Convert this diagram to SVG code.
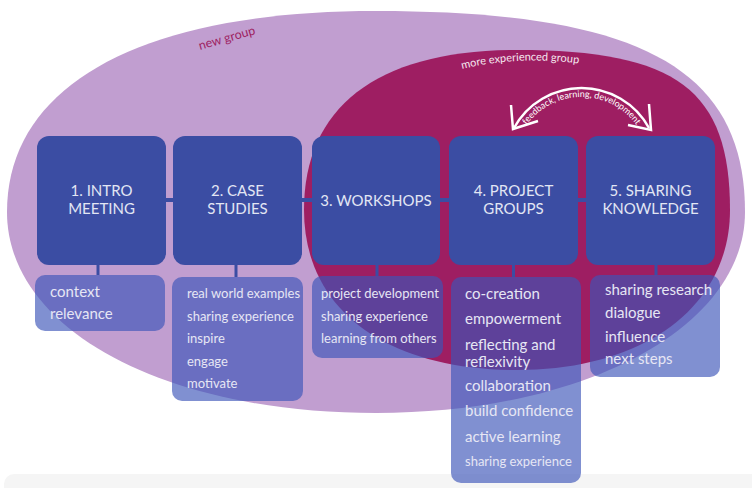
<svg xmlns="http://www.w3.org/2000/svg" width="752" height="488" viewBox="0 0 752 488">
<style>
  .main { fill: #3b4da3; }
  .sub { fill: #3c55b8; fill-opacity: 0.65; }
  .mt { font-family: Lato, "Liberation Sans", sans-serif; font-size: 15px; fill: #e2e6f4; text-anchor: middle; }
  .st { font-family: Lato, "Liberation Sans", sans-serif; font-size: 15px; fill: #e6e6f4; }
  .ss { font-family: Lato, "Liberation Sans", sans-serif; font-size: 13px; fill: #e6e6f4; }
  .conn { fill: #3b4da3; }
  .lbl { font-family: Lato, "Liberation Sans", sans-serif; }
</style>
<defs>
  <path id="mePath" d="M 462 69 Q 520 55 582 64"/>
  <path id="fbPath" d="M 522.6 131 A 68 68 0 0 1 640.4 131"/>
</defs>
<rect x="0" y="0" width="752" height="488" fill="#ffffff"/>
<rect x="4" y="474" width="760" height="24" rx="10" fill="#f5f5f5"/>
<g id="new-group">
  <path d="M 7 212 C 7 84.4 141.7 11 376 11 C 639.8 11 745 68.3 745 212 C 745 326.6 586.3 413 376 413 C 162 413 7 328.6 7 212 Z" fill="#c19ed0"/>
  <text class="lbl" x="200" y="50" font-size="12.5" fill="#9e1e62" transform="rotate(-16 200 50)">new group</text>
</g>
<g id="experienced-group">
  <path d="M 304 210 C 304 106 378.5 50 517 50 C 676.8 50 730 90 730 210 C 730 306 644.8 370 517 370 C 385 370 304 309 304 210 Z" fill="#9e1e62"/>
  <text class="lbl" font-size="11" fill="#f5e8f0"><textPath href="#mePath">more experienced group</textPath></text>
</g>
<g id="feedback">
  <path d="M 514 128 A 77 77 0 0 1 649 128" fill="none" stroke="#ffffff" stroke-width="2.5"/>
  <path d="M 511 105 L 513 129 L 538 121" fill="none" stroke="#ffffff" stroke-width="2.5" stroke-linejoin="miter"/>
  <path d="M 649 104 L 651 130 L 628 125" fill="none" stroke="#ffffff" stroke-width="2.5" stroke-linejoin="miter"/>
  <text class="lbl" font-size="9" fill="#ffffff"><textPath href="#fbPath" startOffset="50%" text-anchor="middle">feedback, learning, development</textPath></text>
</g>
<g id="connectors">
  <rect class="conn" x="150" y="198" width="40" height="4"/>
  <rect class="conn" x="290" y="198" width="40" height="4"/>
  <rect class="conn" x="430" y="198" width="30" height="4"/>
  <rect class="conn" x="570" y="198" width="30" height="4"/>
  <rect class="conn" x="96.5" y="262" width="3" height="13"/>
  <rect class="conn" x="234.5" y="262" width="3" height="15"/>
  <rect class="conn" x="375.5" y="262" width="3" height="14"/>
  <rect class="conn" x="512" y="262" width="3" height="15"/>
  <rect class="conn" x="654.5" y="262" width="3" height="13"/>
</g>
<g id="node-1">
  <rect class="main" x="37" y="136" width="129" height="129" rx="12"/>
  <text class="mt" x="101.5" y="196">1. INTRO</text>
  <text class="mt" x="101.5" y="214">MEETING</text>
</g>
<g id="node-2">
  <rect class="main" x="173" y="136" width="129" height="129" rx="12"/>
  <text class="mt" x="237.5" y="196">2. CASE</text>
  <text class="mt" x="237.5" y="214">STUDIES</text>
</g>
<g id="node-3">
  <rect class="main" x="312" y="136" width="128" height="129" rx="12"/>
  <text class="mt" x="376" y="206">3. WORKSHOPS</text>
</g>
<g id="node-4">
  <rect class="main" x="449" y="136" width="129" height="129" rx="12"/>
  <text class="mt" x="513.5" y="196">4. PROJECT</text>
  <text class="mt" x="513.5" y="214">GROUPS</text>
</g>
<g id="node-5">
  <rect class="main" x="586" y="136" width="129" height="129" rx="12"/>
  <text class="mt" x="650.5" y="196">5. SHARING</text>
  <text class="mt" x="650.5" y="214">KNOWLEDGE</text>
</g>
<g id="details-1">
  <rect class="sub" x="35" y="275" width="130" height="56" rx="10"/>
  <text class="st" x="50" y="297">context</text>
  <text class="st" x="50" y="319">relevance</text>
</g>
<g id="details-2">
  <rect class="sub" x="172" y="277" width="131" height="124" rx="10"/>
  <text class="ss" x="187" y="298">real world examples</text>
  <text class="ss" x="187" y="320.5">sharing experience</text>
  <text class="ss" x="187" y="343">inspire</text>
  <text class="ss" x="187" y="366">engage</text>
  <text class="ss" x="187" y="388">motivate</text>
</g>
<g id="details-3">
  <rect class="sub" x="312" y="276" width="131" height="82" rx="10"/>
  <text class="ss" x="321" y="298">project development</text>
  <text class="ss" x="321" y="320.5">sharing experience</text>
  <text class="ss" x="321" y="343">learning from others</text>
</g>
<g id="details-4">
  <rect class="sub" x="451" y="277" width="130" height="206" rx="10"/>
  <text class="st" x="465" y="299" fill="#ffffff">co-creation</text>
  <text class="st" x="465" y="324">empowerment</text>
  <text class="st" x="465" y="350">reflecting and</text>
  <text class="st" x="465" y="367">reflexivity</text>
  <text class="st" x="465" y="391">collaboration</text>
  <text class="st" x="465" y="416">build confidence</text>
  <text class="st" x="465" y="442">active learning</text>
  <text class="ss" x="465" y="466">sharing experience</text>
</g>
<g id="details-5">
  <rect class="sub" x="590" y="275" width="130" height="102" rx="10"/>
  <text class="st" x="605" y="295">sharing research</text>
  <text class="st" x="605" y="318">dialogue</text>
  <text class="st" x="605" y="342">influence</text>
  <text class="st" x="605" y="364">next steps</text>
</g>
</svg>
